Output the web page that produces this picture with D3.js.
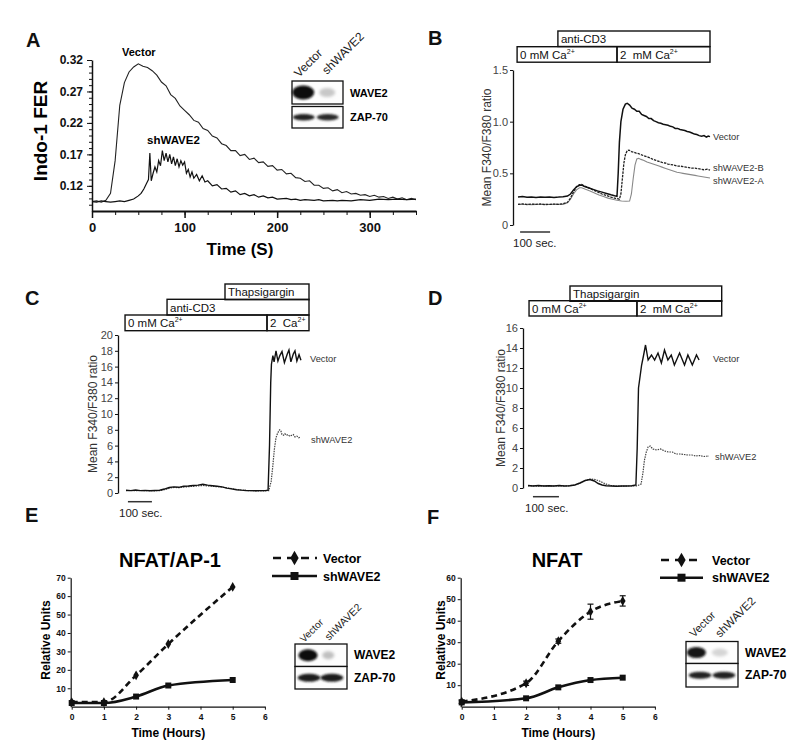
<!DOCTYPE html>
<html>
<head>
<meta charset="utf-8">
<script src="https://cdn.jsdelivr.net/npm/d3@7/dist/d3.min.js"></script>
<style>
html,body{margin:0;padding:0;background:#fff;}
svg{display:block;}
text{font-family:"Liberation Sans",Arial,Helvetica,sans-serif;}
</style>
</head>
<body>
<svg id="fig" width="800" height="747" viewBox="0 0 800 747"></svg>
<script>
// ================= DATA =================
// ---- Panel A (Indo-1 FER vs time, s)
const timeA = d3.range(0, 351, 5);
const vectorA = [0.095,0.096,0.094,0.097,0.108,0.160,0.248,0.284,0.301,0.309,
  0.314,0.310,0.308,0.303,0.296,0.285,0.279,0.265,0.259,0.247,
  0.240,0.233,0.224,0.221,0.211,0.208,0.199,0.196,0.187,0.184,
  0.176,0.176,0.168,0.170,0.162,0.164,0.157,0.158,0.151,0.152,
  0.145,0.146,0.139,0.140,0.133,0.132,0.127,0.128,0.121,0.121,
  0.116,0.117,0.112,0.114,0.109,0.111,0.107,0.108,0.105,0.106,
  0.103,0.105,0.102,0.103,0.100,0.102,0.099,0.101,0.098,0.100,0.098];
const shWAVE2A = [[0,0.095],[5,0.094],[10,0.096],[15,0.095],[20,0.094],[25,0.095],[30,0.096],[35,0.095],[40,0.097],[45,0.099],
  [50,0.104],[53,0.108],[56,0.115],[59,0.124],[61,0.130],[62.5,0.172],[64,0.128],[66,0.140],[68,0.150],[70,0.142],
  [72,0.160],[74,0.152],[76,0.176],[78,0.160],[80,0.172],[82,0.158],[84,0.170],[86,0.155],[88,0.166],[90,0.152],
  [92,0.163],[94,0.150],[96,0.160],[98,0.153],[100,0.158],[102,0.140],[104,0.146],[106,0.134],[108,0.142],[110,0.132],
  [113,0.138],[116,0.128],[119,0.136],[122,0.126],[125,0.128],[130,0.120],[135,0.122],[140,0.115],[145,0.116],[150,0.110],
  [155,0.112],[160,0.106],[165,0.108],[170,0.104],[175,0.106],[180,0.102],[185,0.104],[190,0.101],[195,0.102],[200,0.099],
  [210,0.100],[215,0.098],[220,0.099],[225,0.097],[230,0.098],[240,0.097],[245,0.098],[250,0.096],[260,0.097],[265,0.096],
  [270,0.097],[280,0.096],[290,0.098],[300,0.097],[310,0.099],[320,0.098],[330,0.099],[340,0.098],[350,0.099]];
const ticksXA = [0,100,200,300];
const ticksYA = [0.12,0.17,0.22,0.27,0.32];

// ---- Panel B (Mean F340/F380 ratio vs time, s)
const vectorB = [[0,0.27],[15,0.275],[30,0.268],[45,0.272],[60,0.266],[75,0.27],[90,0.268],[105,0.272],[120,0.267],[135,0.27],
  [150,0.274],[165,0.28],[175,0.3],[185,0.34],[195,0.37],[205,0.385],[212,0.388],[220,0.375],[235,0.36],[250,0.345],
  [265,0.33],[280,0.318],[295,0.305],[310,0.292],[322,0.283],[330,0.278],[334,0.5],[338,0.8],[343,1.0],[350,1.12],
  [358,1.17],[364,1.178],[372,1.16],[380,1.13],[388,1.12],[396,1.1],[404,1.1],[412,1.07],[420,1.06],[428,1.05],
  [436,1.03],[444,1.03],[452,1.01],[460,1.0],[468,0.99],[476,0.985],[484,0.975],[492,0.97],[500,0.965],[508,0.955],
  [516,0.95],[524,0.935],[532,0.935],[540,0.925],[548,0.92],[556,0.915],[564,0.905],[572,0.9],[580,0.89],[588,0.88],
  [596,0.875],[604,0.865],[612,0.86],[620,0.865],[628,0.85],[634,0.86],[640,0.855]];
const shWAVE2B_B = [[0,0.2],[15,0.205],[30,0.198],[45,0.202],[60,0.2],[75,0.203],[90,0.198],[105,0.2],[120,0.202],[135,0.2],
  [150,0.205],[165,0.22],[175,0.26],[185,0.32],[195,0.37],[205,0.39],[212,0.392],[220,0.38],[235,0.36],[250,0.34],
  [265,0.32],[280,0.3],[295,0.285],[310,0.27],[325,0.258],[338,0.25],[343,0.3],[348,0.45],[353,0.6],[358,0.68],
  [364,0.72],[370,0.725],[378,0.71],[386,0.705],[394,0.695],[402,0.69],[410,0.68],[420,0.67],[430,0.66],[440,0.65],
  [450,0.635],[460,0.625],[470,0.615],[480,0.605],[490,0.6],[500,0.59],[510,0.585],[520,0.58],[530,0.57],[540,0.57],
  [550,0.565],[560,0.56],[570,0.555],[580,0.55],[590,0.55],[600,0.545],[610,0.54],[620,0.535],[630,0.54],[640,0.53]];
const shWAVE2A_B = [[0,0.2],[15,0.198],[30,0.2],[45,0.197],[60,0.2],[75,0.198],[90,0.2],[105,0.198],[120,0.2],[135,0.2],
  [150,0.2],[165,0.215],[175,0.25],[185,0.3],[195,0.34],[205,0.36],[212,0.36],[225,0.345],[240,0.33],[255,0.31],
  [270,0.29],[285,0.275],[300,0.26],[315,0.25],[330,0.24],[345,0.232],[360,0.23],[372,0.232],[378,0.3],[384,0.45],
  [390,0.58],[396,0.64],[402,0.645],[410,0.635],[420,0.625],[430,0.61],[440,0.6],[450,0.59],[460,0.58],[470,0.57],
  [480,0.56],[490,0.55],[500,0.54],[510,0.53],[520,0.52],[530,0.51],[540,0.505],[550,0.5],[560,0.495],[570,0.49],
  [580,0.485],[590,0.48],[600,0.475],[610,0.47],[620,0.465],[630,0.46],[640,0.455]];
const ticksYB = [0,0.5,1.0,1.5];

// ---- Panel C
const vectorC = [[0,0.35],[20,0.3],[40,0.38],[60,0.3],[80,0.33],[100,0.28],[120,0.32],[140,0.35],[160,0.5],[180,0.7],
  [200,0.78],[220,0.72],[240,0.85],[260,0.88],[280,0.95],[300,1.0],[320,1.1],[340,1.0],[360,0.92],[380,0.85],
  [400,0.78],[420,0.62],[440,0.52],[460,0.42],[480,0.36],[500,0.32],[520,0.3],[540,0.28],[560,0.3],[580,0.3],
  [592,0.35],[598,6],[603,14],[606,16.3],[612,17.4],[617,16.6],[625,18.0],[633,16.7],[641,17.4],[650,17.9],
  [660,16.5],[672,17.6],[679,18.1],[687,16.6],[697,17.6],[704,18.0],[712,16.7],[721,17.5],[729,16.8]];
const shWAVE2C = [[0,0.3],[20,0.32],[40,0.28],[60,0.32],[80,0.3],[100,0.3],[120,0.28],[140,0.3],[160,0.42],[180,0.6],
  [200,0.7],[220,0.68],[240,0.75],[260,0.8],[280,0.85],[300,0.9],[320,0.95],[340,0.9],[360,0.85],[380,0.8],
  [400,0.75],[420,0.65],[440,0.55],[460,0.45],[480,0.38],[500,0.32],[520,0.3],[540,0.28],[560,0.28],[580,0.28],
  [595,0.3],[605,1.5],[612,3.5],[618,5.5],[625,7.0],[632,7.6],[640,8.0],[645,7.9],[650,7.4],[656,7.3],
  [662,7.5],[668,7.3],[675,7.4],[682,7.2],[690,7.3],[697,7.4],[704,7.1],[712,7.2],[720,7.0],[727,7.1]];
const ticksYC = [0,2,4,6,8,10,12,14,16,18,20];

// ---- Panel D
const vectorD = [[0,0.25],[20,0.2],[40,0.25],[60,0.2],[80,0.22],[100,0.2],[120,0.25],[140,0.2],[160,0.22],[180,0.3],
  [200,0.5],[220,0.75],[238,0.85],[255,0.7],[270,0.45],[285,0.3],[300,0.22],[320,0.2],[340,0.18],[360,0.2],
  [380,0.2],[400,0.22],[415,0.3],[420,4],[425,10],[437,12.3],[444,13.2],[452,14.3],[462,12.8],[475,13.3],
  [487,12.8],[500,13.5],[513,12.5],[525,13.8],[538,12.8],[551,13.3],[563,12.3],[583,13.5],[602,12.3],[615,13.3],
  [632,12.3],[648,13.3],[658,12.8]];
const shWAVE2D = [[0,0.2],[20,0.22],[40,0.18],[60,0.22],[80,0.2],[100,0.2],[120,0.22],[140,0.2],[160,0.22],[180,0.3],
  [200,0.5],[220,0.75],[240,0.9],[258,0.85],[275,0.7],[290,0.5],[305,0.35],[320,0.25],[340,0.2],[360,0.18],
  [380,0.2],[400,0.2],[420,0.22],[435,0.4],[442,1.5],[448,2.8],[455,3.6],[462,4.1],[470,4.2],[480,3.9],
  [495,3.8],[510,3.9],[525,3.7],[540,3.6],[555,3.6],[570,3.4],[585,3.4],[600,3.35],[615,3.3],[630,3.3],
  [645,3.2],[660,3.25],[675,3.15],[696,3.2]];
const ticksYD = [0,2,4,6,8,10,12,14,16];

// ---- Panel E (NFAT/AP-1 luciferase)
const hoursE = [0,1,2,3,5];
const vectorE = [2.5,2.5,17,34,65];
const shWAVE2E = [2,2,5.5,11.5,14.5];
const ticksXE = [0,1,2,3,4,5,6];
const ticksYE = [10,20,30,40,50,60,70];

// ---- Panel F (NFAT luciferase)
const hoursF = [0,2,3,4,5];
const vectorF = [2.3,10.9,30.5,44.2,49.2];
const vectorFerr = [0.8,1,1,3.5,2.4];
const shWAVE2F = [2,3.9,9,12.4,13.5];
const ticksXF = [0,1,2,3,4,5,6];
const ticksYF = [10,20,30,40,50,60];

// ================= DRAWING =================
const svg = d3.select("#fig");
const defs = svg.append("defs");
defs.append("filter").attr("id","blur1").attr("x","-50%").attr("y","-50%").attr("width","200%").attr("height","200%")
  .append("feGaussianBlur").attr("stdDeviation",1.1);
defs.append("filter").attr("id","blur2").attr("x","-50%").attr("y","-50%").attr("width","200%").attr("height","200%")
  .append("feGaussianBlur").attr("stdDeviation",1.8);

function letter(x, y, t) {
  svg.append("text").attr("x", x).attr("y", y).attr("font-size", 20)
    .attr("font-weight", "bold").attr("fill", "#111").text(t);
}
function styleAxis(g, size, weight, color) {
  g.selectAll("text").attr("font-size", size).attr("font-weight", weight).attr("fill", color)
    .style("font-family", '"Liberation Sans",Arial,sans-serif');
  g.selectAll("line").attr("stroke", "#111");
  g.select(".domain").attr("stroke", "#111");
}

// ---------- Panel A ----------
letter(26, 47, "A");
{
  const x = d3.scaleLinear().domain([0, 350]).range([92, 416]);
  const y = d3.scaleLinear().domain([0.08, 0.32]).range([211, 60]);
  const g = svg.append("g");
  g.append("g").attr("transform", "translate(0,211)")
    .call(d3.axisBottom(x).tickValues(d3.range(25, 351, 25)).tickSize(4).tickFormat(""))
    .call(a => a.select(".domain").remove()).selectAll("line").attr("stroke", "#111");
  g.append("g").attr("transform", "translate(92,0)")
    .call(d3.axisLeft(y).tickValues(d3.range(9, 32, 1).map(v => v / 100)).tickSize(3).tickFormat(""))
    .call(a => a.select(".domain").remove()).selectAll("line").attr("stroke", "#111");
  const ax = g.append("g").attr("transform", "translate(0,211)")
    .call(d3.axisBottom(x).tickValues(ticksXA).tickSize(7).tickSizeOuter(0).tickPadding(5));
  styleAxis(ax, 13, "bold", "#111");
  ax.select(".domain").attr("stroke-width", 2);
  ax.selectAll(".tick line").attr("stroke-width", 1.5);
  const ay = g.append("g").attr("transform", "translate(92,0)")
    .call(d3.axisLeft(y).tickValues(ticksYA).tickSize(5).tickSizeOuter(0).tickPadding(4).tickFormat(d3.format(".2f")));
  styleAxis(ay, 12, "bold", "#111");
  ay.select(".domain").attr("stroke-width", 1.5);

  const line = d3.line().x(d => x(d[0])).y(d => y(d[1]));
  g.append("path").datum(timeA.map((t, i) => [t, vectorA[i]])).attr("d", line)
    .attr("fill", "none").attr("stroke", "#222").attr("stroke-width", 1.1);
  g.append("path").datum(shWAVE2A).attr("d", line)
    .attr("fill", "none").attr("stroke", "#111").attr("stroke-width", 1.2);

  g.append("text").attr("x", 122).attr("y", 56).attr("font-size", 11).attr("font-weight", "bold").text("Vector");
  g.append("text").attr("x", 147).attr("y", 144).attr("font-size", 11.5).attr("font-weight", "bold").text("shWAVE2");
  g.append("text").attr("transform", "translate(47,131) rotate(-90)").attr("text-anchor", "middle")
    .attr("font-size", 19).attr("font-weight", "bold").text("Indo-1 FER");
  g.append("text").attr("x", 240).attr("y", 255).attr("text-anchor", "middle")
    .attr("font-size", 17).attr("font-weight", "bold").text("Time (S)");
}

// ---------- Western blot insets ----------
function blot(o) {
  const g = svg.append("g");
  g.append("rect").attr("x", o.x).attr("y", o.y1).attr("width", o.w).attr("height", o.h1)
    .attr("fill", "#fdfdfd").attr("stroke", "#111").attr("stroke-width", 1.3);
  g.append("rect").attr("x", o.x).attr("y", o.y2).attr("width", o.w).attr("height", o.h2)
    .attr("fill", "#fdfdfd").attr("stroke", "#111").attr("stroke-width", 1.3);
  o.bands.forEach(b => {
    g.append("ellipse").attr("cx", o.x + b.cx * o.w).attr("cy", b.row === 0 ? o.y1 + o.h1 / 2 : o.y2 + o.h2 / 2)
      .attr("rx", b.rx).attr("ry", b.ry).attr("fill", b.fill).attr("filter", b.blur ? "url(#blur2)" : "url(#blur1)");
  });
  g.append("text").attr("x", o.x + o.w + 7).attr("y", o.y1 + o.h1 / 2 + 4.2).attr("font-size", o.fs)
    .attr("font-weight", "bold").text("WAVE2");
  g.append("text").attr("x", o.x + o.w + 7).attr("y", o.y2 + o.h2 / 2 + 4.2).attr("font-size", o.fs)
    .attr("font-weight", "bold").text("ZAP-70");
  o.cols.forEach(c => {
    g.append("text").attr("transform", `translate(${c.x},${c.y}) rotate(-45)`).attr("font-size", c.fs)
      .attr("fill", "#222").text(c.t);
  });
}
blot({x: 292, w: 51, y1: 81, h1: 23, y2: 106.5, h2: 21.5, fs: 11,
  bands: [{row:0,cx:0.22,rx:11,ry:7,fill:"#0a0a0a"},{row:0,cx:0.69,rx:8,ry:4.5,fill:"#c8c8c8",blur:true},
          {row:1,cx:0.23,rx:11,ry:3.3,fill:"#222"},{row:1,cx:0.7,rx:11,ry:3.3,fill:"#2a2a2a"}],
  cols: [{x:299,y:78,t:"Vector",fs:12},{x:327,y:75,t:"shWAVE2",fs:12}]});
blot({x: 295, w: 52, y1: 644, h1: 22.5, y2: 666.5, h2: 22.5, fs: 12,
  bands: [{row:0,cx:0.25,rx:9.5,ry:6,fill:"#0a0a0a"},{row:0,cx:0.64,rx:6,ry:4,fill:"#c0c0c0",blur:true},
          {row:1,cx:0.27,rx:11.5,ry:4,fill:"#1a1a1a"},{row:1,cx:0.71,rx:11.5,ry:4,fill:"#1a1a1a"}],
  cols: [{x:304,y:643,t:"Vector",fs:10},{x:329,y:641,t:"shWAVE2",fs:10.5}]});
blot({x: 686, w: 52, y1: 641.5, h1: 22, y2: 663.5, h2: 23.5, fs: 12,
  bands: [{row:0,cx:0.2,rx:9.5,ry:5.5,fill:"#151515"},{row:0,cx:0.65,rx:8,ry:4,fill:"#d5d5d5",blur:true},
          {row:1,cx:0.27,rx:11.5,ry:3.5,fill:"#222"},{row:1,cx:0.73,rx:11.5,ry:3.5,fill:"#222"}],
  cols: [{x:694,y:638,t:"Vector",fs:11},{x:720,y:638,t:"shWAVE2",fs:11.5}]});

// ---------- Ca2+ trace panels B, C, D ----------
function tracePanel(o) {
  const g = svg.append("g");
  const x = d3.scaleLinear().domain([0, o.tMax]).range([o.x0, o.x0 + o.tMax * o.pxs]);
  const y = d3.scaleLinear().domain(o.yDomain).range(o.yRange);
  o.boxes.forEach(b => {
    const top = o.rows[b.row];
    g.append("rect").attr("x", x(b.t0)).attr("y", top).attr("width", x(b.t1) - x(b.t0)).attr("height", o.rowH)
      .attr("fill", "none").attr("stroke", "#111").attr("stroke-width", 1.4);
    const t = g.append("text").attr("x", x(b.t0) + 3).attr("y", top + o.rowH - 3.5).attr("font-size", 11.5)
      .attr("fill", "#111").text(b.label);
    if (b.sup) t.append("tspan").attr("dy", -5).attr("font-size", 7).text(b.sup);
  });
  const ay = g.append("g").attr("transform", `translate(${o.axisX},0)`)
    .call(d3.axisLeft(y).tickValues(o.ticks).tickSize(3).tickSizeOuter(0).tickPadding(2).tickFormat(o.fmt));
  styleAxis(ay, 11, "normal", "#444");
  ay.select(".domain").attr("stroke-width", 1.3);
  g.append("text").attr("transform", `translate(${o.ylabX},${(o.yRange[0] + o.yRange[1]) / 2}) rotate(-90)`)
    .attr("text-anchor", "middle").attr("font-size", 12).attr("fill", "#333").text("Mean F340/F380 ratio");
  const line = d3.line().x(d => x(d[0])).y(d => y(d[1]));
  o.series.forEach(s => {
    g.append("path").datum(s.data).attr("d", line).attr("fill", "none")
      .attr("stroke", s.stroke).attr("stroke-width", s.w).attr("stroke-dasharray", s.dash || null);
  });
  o.labels.forEach(l => {
    g.append("text").attr("x", l.x).attr("y", l.y).attr("font-size", 9.3).attr("fill", "#333").text(l.t);
  });
  g.append("line").attr("x1", x(o.bar[0])).attr("x2", x(o.bar[1])).attr("y1", o.barY).attr("y2", o.barY)
    .attr("stroke", "#333").attr("stroke-width", 1.5);
  g.append("text").attr("x", o.barTextX).attr("y", o.barY + 15).attr("font-size", 11.5).attr("fill", "#222").text("100 sec.");
}

letter(428, 45, "B");
tracePanel({x0: 518, pxs: 0.3, tMax: 640, yDomain: [0, 1.5], yRange: [225, 70], axisX: 513, ylabX: 491,
  ticks: ticksYB, fmt: d => d === 0 ? "0" : d3.format(".1f")(d),
  rows: [46.7, 31], rowH: 15.5,
  boxes: [{row:0,t0:-3,t1:330,label:"0 mM Ca",sup:"2+"},{row:0,t0:330,t1:640,label:"2\u00a0 mM Ca",sup:"2+"},
          {row:1,t0:133,t1:640,label:"anti-CD3"}],
  series: [{data: shWAVE2A_B, stroke: "#888", w: 1.1},
           {data: shWAVE2B_B, stroke: "#222", w: 1.3, dash: "2.5,1"},
           {data: vectorB, stroke: "#111", w: 1.5}],
  labels: [{x:713,y:140,t:"Vector"},{x:713,y:171,t:"shWAVE2-B"},{x:713,y:184,t:"shWAVE2-A"}],
  bar: [7, 107], barY: 232, barTextX: 513});

letter(25, 305, "C");
tracePanel({x0: 126, pxs: 0.24, tMax: 762.5, yDomain: [0, 20], yRange: [493, 335], axisX: 118, ylabX: 97,
  ticks: ticksYC, fmt: d3.format("d"),
  rows: [315, 299.3, 284], rowH: 15.7,
  boxes: [{row:0,t0:-4,t1:587.5,label:"0 mM Ca",sup:"2+"},{row:0,t0:587.5,t1:762.5,label:"2\u00a0 Ca",sup:"2+"},
          {row:1,t0:171,t1:762.5,label:"anti-CD3"},{row:2,t0:412.5,t1:762.5,label:"Thapsigargin"}],
  series: [{data: shWAVE2C, stroke: "#444", w: 1.2, dash: "1.5,1"},
           {data: vectorC, stroke: "#111", w: 1.4}],
  labels: [{x:310,y:362,t:"Vector"},{x:311,y:443,t:"shWAVE2"}],
  bar: [8, 108], barY: 501.7, barTextX: 119});

letter(428, 305, "D");
tracePanel({x0: 528, pxs: 0.26, tMax: 745, yDomain: [0, 16], yRange: [488, 328], axisX: 523, ylabX: 505,
  ticks: ticksYD, fmt: d3.format("d"),
  rows: [300.7, 286], rowH: 15.3,
  boxes: [{row:0,t0:4,t1:419,label:"0 mM Ca",sup:"2+"},{row:0,t0:419,t1:745,label:"2\u00a0 mM Ca",sup:"2+"},
          {row:1,t0:161.5,t1:745,label:"Thapsigargin"}],
  series: [{data: shWAVE2D, stroke: "#444", w: 1.2, dash: "1.5,1"},
           {data: vectorD, stroke: "#111", w: 1.4}],
  labels: [{x:713,y:362,t:"Vector"},{x:715,y:460,t:"shWAVE2"}],
  bar: [19, 119], barY: 496.7, barTextX: 525});

// ---------- Luciferase panels E, F ----------
function lucPanel(o) {
  const g = svg.append("g");
  const x = d3.scaleLinear().domain([0, 6]).range([o.x0, o.x0 + 6 * o.pxh]);
  const y = d3.scaleLinear().domain([0, o.yMax]).range([706.7, 577.7]);
  const ax = g.append("g").attr("transform", "translate(0,706.7)")
    .call(d3.axisBottom(x).tickValues(o.ticksX).tickSize(3).tickSizeOuter(0).tickPadding(4).tickFormat(d3.format("d")));
  styleAxis(ax, 8.5, "bold", "#111");
  const ay = g.append("g").attr("transform", `translate(${o.x0 - 1},0)`)
    .call(d3.axisLeft(y).tickValues(o.ticksY).tickSize(3).tickSizeOuter(0).tickPadding(2).tickFormat(d3.format("d")));
  styleAxis(ay, 8.5, "bold", "#111");
  g.selectAll(".domain").attr("stroke-width", 1.2);

  const line = d3.line().curve(d3.curveMonotoneX).x(d => x(d[0])).y(d => y(d[1]));
  const vec = o.hours.map((h, i) => [h, o.vector[i]]);
  const sh = o.hours.map((h, i) => [h, o.sh[i]]);
  g.append("path").datum(vec).attr("d", line).attr("fill", "none").attr("stroke", "#111")
    .attr("stroke-width", 2.6).attr("stroke-dasharray", "6,4");
  g.append("path").datum(sh).attr("d", line).attr("fill", "none").attr("stroke", "#111").attr("stroke-width", 2.6);
  if (o.err) {
    vec.forEach((d, i) => {
      const e = o.err[i];
      const xx = x(d[0]);
      g.append("line").attr("x1", xx).attr("x2", xx).attr("y1", y(d[1] - e)).attr("y2", y(d[1] + e)).attr("stroke", "#111").attr("stroke-width", 1.2);
      [d[1] - e, d[1] + e].forEach(v => g.append("line").attr("x1", xx - 3).attr("x2", xx + 3).attr("y1", y(v)).attr("y2", y(v)).attr("stroke", "#111").attr("stroke-width", 1.2));
    });
  }
  const diamond = d3.symbol().type(d3.symbolDiamond).size(28);
  const square = d3.symbol().type(d3.symbolSquare).size(36);
  g.selectAll(null).data(sh).join("path").attr("d", square).attr("transform", d => `translate(${x(d[0])},${y(d[1])})`).attr("fill", "#111");
  g.selectAll(null).data(vec).join("path").attr("d", diamond).attr("transform", d => `translate(${x(d[0])},${y(d[1])})`).attr("fill", "#111");

  g.append("text").attr("x", o.titleX).attr("y", 567).attr("text-anchor", "middle").attr("font-size", 20)
    .attr("font-weight", "bold").text(o.title);
  g.append("text").attr("x", x(3)).attr("y", 737).attr("text-anchor", "middle").attr("font-size", 12)
    .attr("font-weight", "bold").text("Time (Hours)");
  g.append("text").attr("transform", `translate(${o.ylabX},640) rotate(-90)`).attr("text-anchor", "middle")
    .attr("font-size", 12).attr("font-weight", "bold").text("Relative Units");
  const L = o.legend;
  g.append("line").attr("x1", L.x0).attr("x2", L.x1).attr("y1", L.y0).attr("y2", L.y0).attr("stroke", "#111")
    .attr("stroke-width", 2.6).attr("stroke-dasharray", "8,6").attr("stroke-dashoffset", -1);
  g.append("path").attr("d", d3.symbol().type(d3.symbolDiamond).size(60)).attr("transform", `translate(${(L.x0 + L.x1) / 2},${L.y0})`).attr("fill", "#111");
  g.append("line").attr("x1", L.x0).attr("x2", L.x1).attr("y1", L.y1).attr("y2", L.y1).attr("stroke", "#111").attr("stroke-width", 2.6);
  g.append("path").attr("d", d3.symbol().type(d3.symbolSquare).size(64)).attr("transform", `translate(${(L.x0 + L.x1) / 2},${L.y1})`).attr("fill", "#111");
  g.append("text").attr("x", L.tx).attr("y", L.y0 + 4.5).attr("font-size", 12.5).attr("font-weight", "bold").text("Vector");
  g.append("text").attr("x", L.tx).attr("y", L.y1 + 4.5).attr("font-size", 12.5).attr("font-weight", "bold").text("shWAVE2");
}

letter(25, 522, "E");
lucPanel({x0: 71.7, pxh: 32.2, yMax: 70, ticksX: ticksXE, ticksY: ticksYE, hours: hoursE, vector: vectorE, sh: shWAVE2E,
  title: "NFAT/AP-1", titleX: 170, ylabX: 50,
  legend: {x0: 272, x1: 317, y0: 558, y1: 576, tx: 323}});

letter(427, 524, "F");
lucPanel({x0: 461.7, pxh: 32.2, yMax: 60, ticksX: ticksXF, ticksY: ticksYF, hours: hoursF, vector: vectorF, sh: shWAVE2F,
  err: vectorFerr, title: "NFAT", titleX: 557, ylabX: 445,
  legend: {x0: 660, x1: 703, y0: 560, y1: 577.7, tx: 712}});
</script>
</body>
</html>
